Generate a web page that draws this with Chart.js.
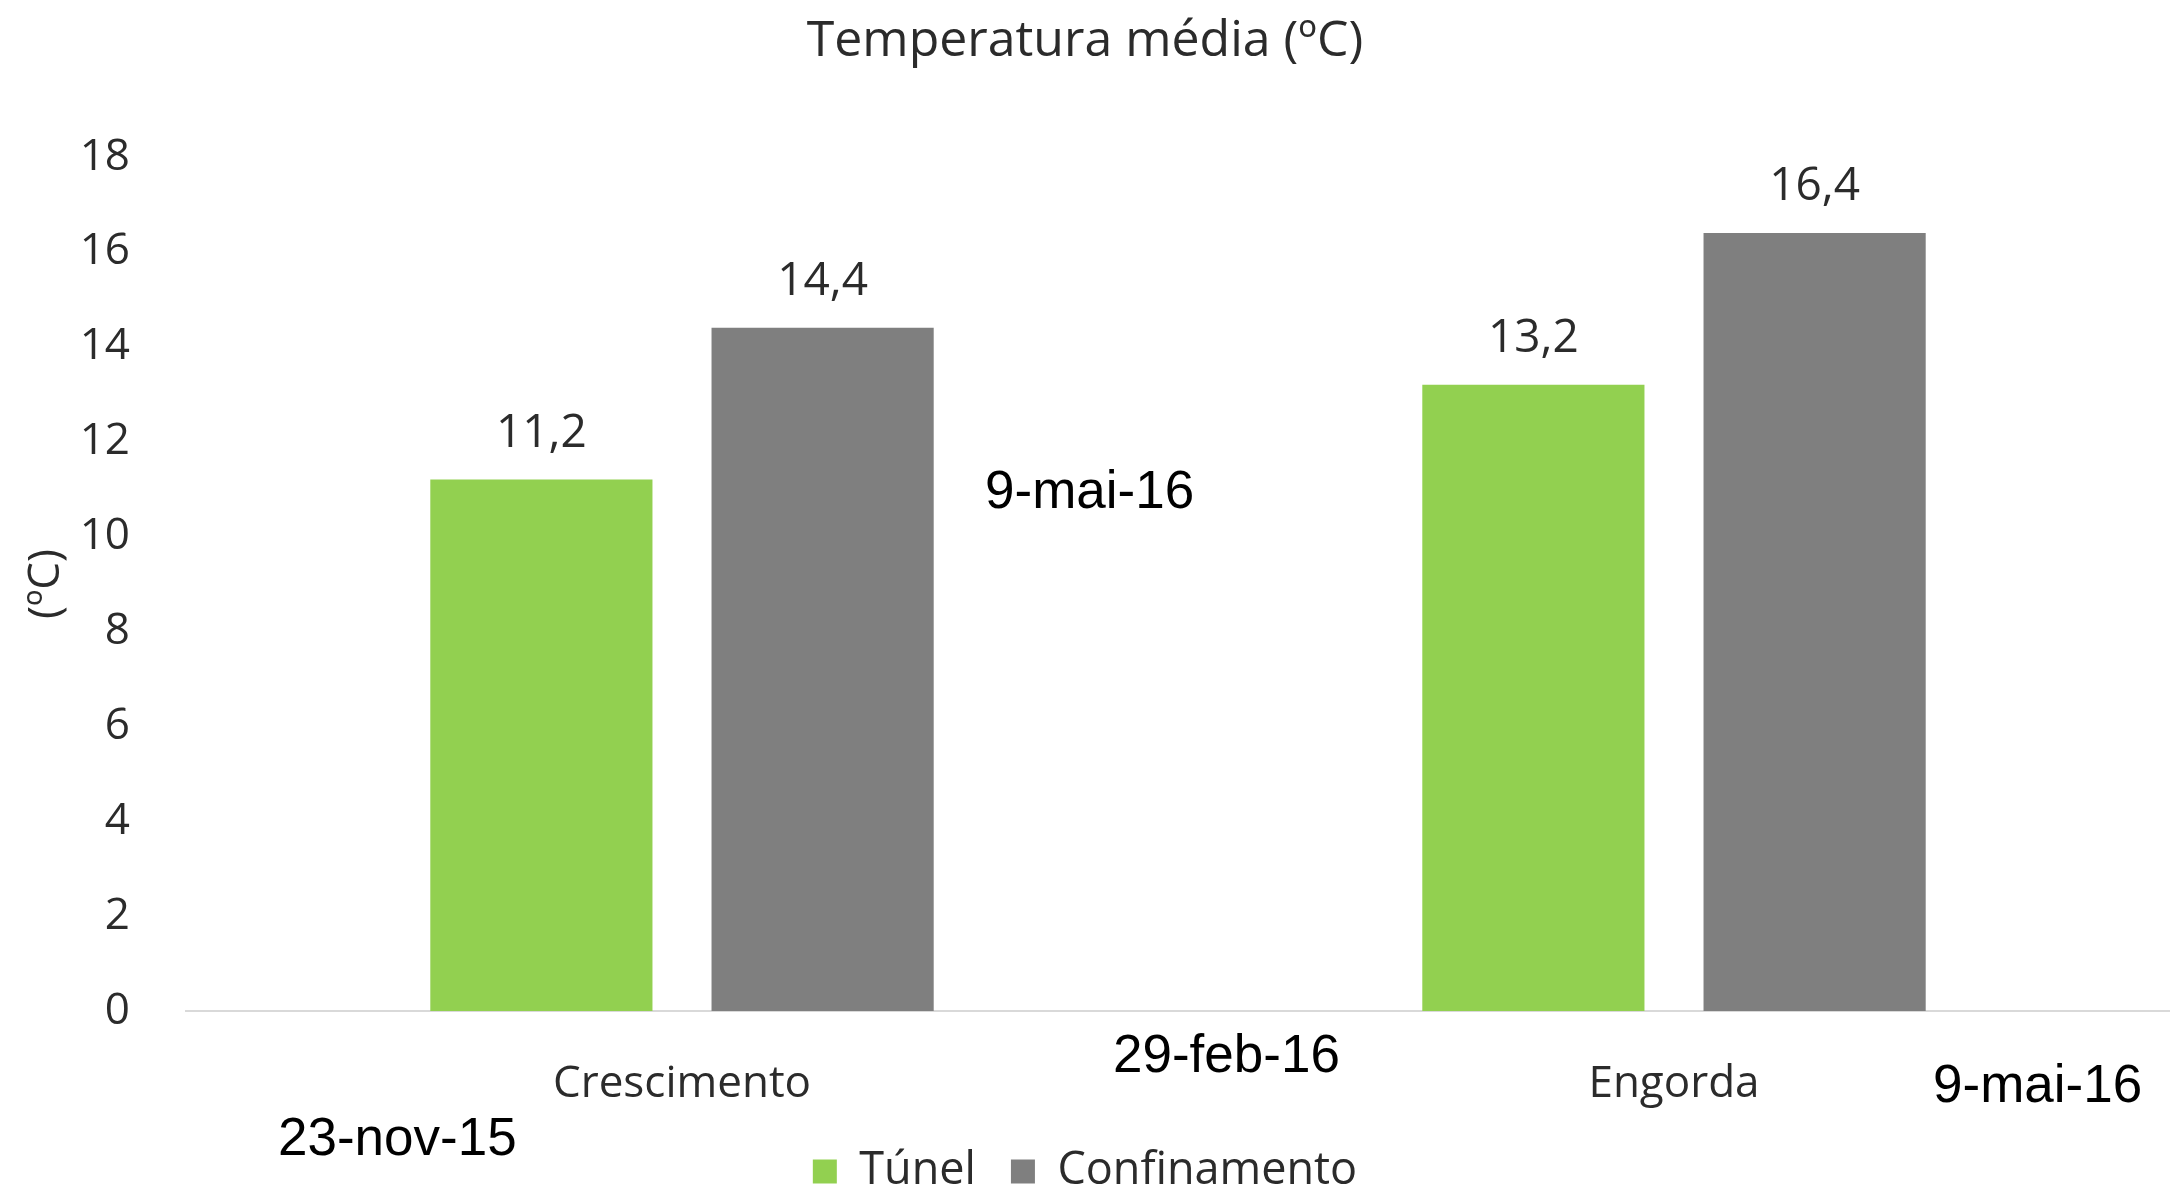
<!DOCTYPE html>
<html>
<head>
<meta charset="utf-8">
<script src="https://cdn.jsdelivr.net/npm/chart.js@4.4.1/dist/chart.umd.min.js"></script>
<style>
  html, body { margin: 0; padding: 0; background: #ffffff; }
  #wrap { width: 2170px; height: 1195px; position: relative; }
</style>
</head>
<body>
<div id="wrap"><canvas id="c" width="2170" height="1195"></canvas></div>
<script>
// ---- data ----
const categories = ['Crescimento', 'Engorda'];
const seriesNames = ['Túnel', 'Confinamento'];
const tunelValues = [11.2, 13.2];
const confinamentoValues = [14.4, 16.4];
const yTickValues = [0, 2, 4, 6, 8, 10, 12, 14, 16, 18];
const chartTitle = 'Temperatura média (ºC)';
const yAxisTitle = '(ºC)';
const annotationTexts = ['9-mai-16', '29-feb-16', '9-mai-16', '23-nov-15'];

// ---- styling / placement (not data) ----
const seriesColors = ['#92D050', '#7F7F7F'];
const textColor = '#2b2b2b';
const uiFont = 'Open Sans';
const annotationPlacement = [
  { x: 985, y: 508 },
  { x: 1113, y: 1072 },
  { x: 1933, y: 1102 },
  { x: 278, y: 1155 }
];

const fmt = v => v.toFixed(1).replace('.', ',');

const valueLabelPlugin = {
  id: 'valueLabels',
  afterDatasetsDraw(chart) {
    const ctx = chart.ctx;
    ctx.save();
    ctx.font = '46px "' + uiFont + '"';
    ctx.fillStyle = textColor;
    ctx.textAlign = 'center';
    ctx.textBaseline = 'alphabetic';
    chart.data.datasets.forEach((ds, di) => {
      const meta = chart.getDatasetMeta(di);
      meta.data.forEach((bar, i) => {
        ctx.fillText(fmt(ds.data[i]), bar.x, bar.y - 33);
      });
    });
    ctx.restore();
  }
};

const annotationPlugin = {
  id: 'annotations',
  afterDraw(chart) {
    const ctx = chart.ctx;
    ctx.save();
    ctx.font = '53px "Liberation Sans", Arial, sans-serif';
    ctx.fillStyle = '#000000';
    ctx.textAlign = 'left';
    ctx.textBaseline = 'alphabetic';
    annotationTexts.forEach((t, i) => {
      const p = annotationPlacement[i];
      ctx.fillText(t, p.x, p.y);
    });
    ctx.restore();
  }
};

new Chart(document.getElementById('c'), {
  type: 'bar',
  data: {
    labels: categories,
    datasets: [
      {
        label: seriesNames[0],
        data: tunelValues,
        backgroundColor: seriesColors[0],
        borderWidth: 0,
        categoryPercentage: 0.567,
        barPercentage: 0.79
      },
      {
        label: seriesNames[1],
        data: confinamentoValues,
        backgroundColor: seriesColors[1],
        borderWidth: 0,
        categoryPercentage: 0.567,
        barPercentage: 0.79
      }
    ]
  },
  options: {
    responsive: false,
    devicePixelRatio: 1,
    animation: false,
    layout: { padding: 0 },
    plugins: {
      title: {
        display: true,
        text: chartTitle,
        color: textColor,
        font: { family: uiFont, size: 50, weight: 'normal' },
        padding: { top: 12, bottom: 85 }
      },
      legend: {
        position: 'bottom',
        maxHeight: 81,
        labels: {
          color: textColor,
          font: { family: uiFont, size: 45 },
          boxWidth: 24,
          boxHeight: 24,
          padding: 35
        }
      },
      tooltip: { enabled: false }
    },
    scales: {
      x: {
        grid: { display: false },
        border: { display: true, color: '#D9D9D9', width: 2 },
        ticks: { color: textColor, font: { family: uiFont, size: 44 }, padding: 39 },
        afterFit(s) { s.height = 103; }
      },
      y: {
        min: 0,
        max: 18,
        grid: { display: false },
        border: { display: false },
        ticks: { color: textColor, font: { family: uiFont, size: 44 }, padding: 48 },
        afterBuildTicks(s) { s.ticks = yTickValues.map(v => ({ value: v })); },
        title: {
          display: true,
          text: yAxisTitle,
          color: textColor,
          font: { family: uiFont, size: 44 },
          padding: { top: 20, bottom: 0 }
        },
        afterFit(s) { s.width = 186; }
      }
    }
  },
  plugins: [valueLabelPlugin, annotationPlugin]
});
</script>
</body>
</html>
